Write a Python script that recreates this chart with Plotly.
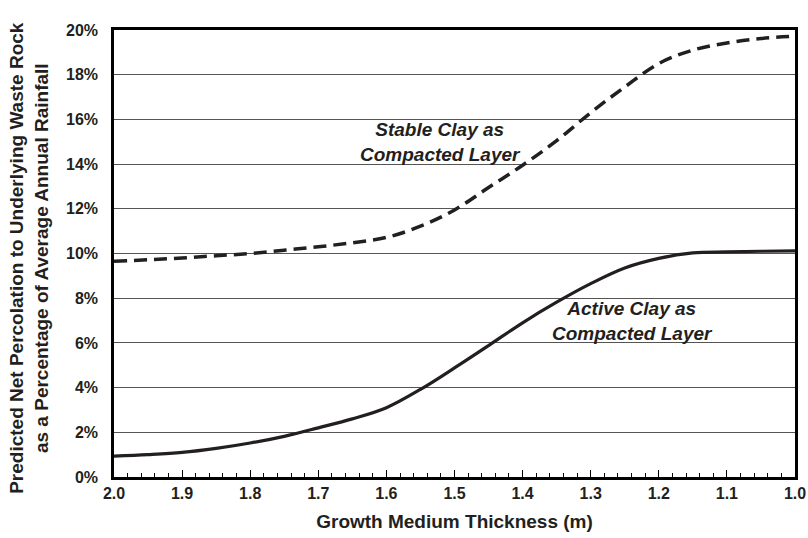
import plotly.graph_objects as go

thickness = [2.0, 1.95, 1.9, 1.85, 1.8, 1.75, 1.7, 1.65, 1.6, 1.55, 1.5,
             1.45, 1.4, 1.35, 1.3, 1.25, 1.2, 1.15, 1.1, 1.05, 1.0]
stable_clay = [9.65, 9.72, 9.8, 9.9, 10.0, 10.15, 10.3, 10.48, 10.72, 11.22, 11.95,
               12.95, 13.95, 15.05, 16.3, 17.45, 18.5, 19.1, 19.42, 19.62, 19.72]
active_clay = [0.93, 1.0, 1.1, 1.28, 1.52, 1.82, 2.2, 2.6, 3.1, 3.92, 4.88,
               5.88, 6.9, 7.82, 8.65, 9.35, 9.78, 10.03, 10.07, 10.1, 10.12]

y_ticks = [0, 2, 4, 6, 8, 10, 12, 14, 16, 18, 20]
y_tick_labels = [f"{v}%" for v in y_ticks]
x_ticks = [2.0, 1.9, 1.8, 1.7, 1.6, 1.5, 1.4, 1.3, 1.2, 1.1, 1.0]
x_tick_labels = [f"{v:.1f}" for v in x_ticks]

FONT = "Arial, Liberation Sans, sans-serif"
INK = "#231f20"

fig = go.Figure()
fig.add_trace(go.Scatter(x=thickness, y=stable_clay, mode="lines",
                         line=dict(color=INK, width=3.5, dash="13px,7px", shape="spline", smoothing=1.0),
                         showlegend=False))
fig.add_trace(go.Scatter(x=thickness, y=active_clay, mode="lines",
                         line=dict(color=INK, width=3.2, shape="spline", smoothing=1.0),
                         showlegend=False))

fig.add_annotation(x=1.521, y=15.0, text="<i>Stable Clay as<br>Compacted Layer</i>",
                   showarrow=False, font=dict(family=FONT, size=19, color=INK, weight="bold"))
fig.add_annotation(x=1.238, y=6.98, text="<i>Active Clay as<br>Compacted Layer</i>",
                   showarrow=False, font=dict(family=FONT, size=19, color=INK, weight="bold"))

fig.add_annotation(xref="paper", yref="paper", x=-0.125, y=0.49, textangle=-90,
                   text="Predicted Net Percolation to Underlying Waste Rock<br>as a Percentage of Average Annual Rainfall",
                   showarrow=False, font=dict(family=FONT, size=19, color=INK, weight="bold"),
                   xanchor="center", yanchor="middle")

fig.update_layout(
    width=808, height=538,
    margin=dict(l=114, r=13, t=30, b=61),
    paper_bgcolor="white", plot_bgcolor="white",
    font=dict(family=FONT, color=INK),
    xaxis=dict(range=[2.0, 1.0], tickvals=x_ticks, ticktext=x_tick_labels,
               automargin=False,
               showgrid=False, zeroline=False,
               showline=True, linecolor="black", linewidth=2.5, mirror=True,
               ticks="inside", ticklen=7, tickwidth=1, tickcolor="black",
               minor=dict(dtick=0.02, ticks="inside", ticklen=4, tickcolor="black", tickwidth=1),
               tickfont=dict(family=FONT, size=16, color=INK, weight="bold"),
               title=dict(text="Growth Medium Thickness (m)",
                          font=dict(family=FONT, size=19, color=INK, weight="bold"), standoff=14)),
    yaxis=dict(range=[0, 20], tickvals=y_ticks, ticktext=y_tick_labels,
               automargin=False,
               showgrid=True, gridcolor="#555555", gridwidth=1, zeroline=False,
               showline=True, linecolor="black", linewidth=2.5, mirror=True,
               ticks="", ticklabelstandoff=10,
               tickfont=dict(family=FONT, size=16, color=INK, weight="bold")),
)

fig.write_html("out.html")
